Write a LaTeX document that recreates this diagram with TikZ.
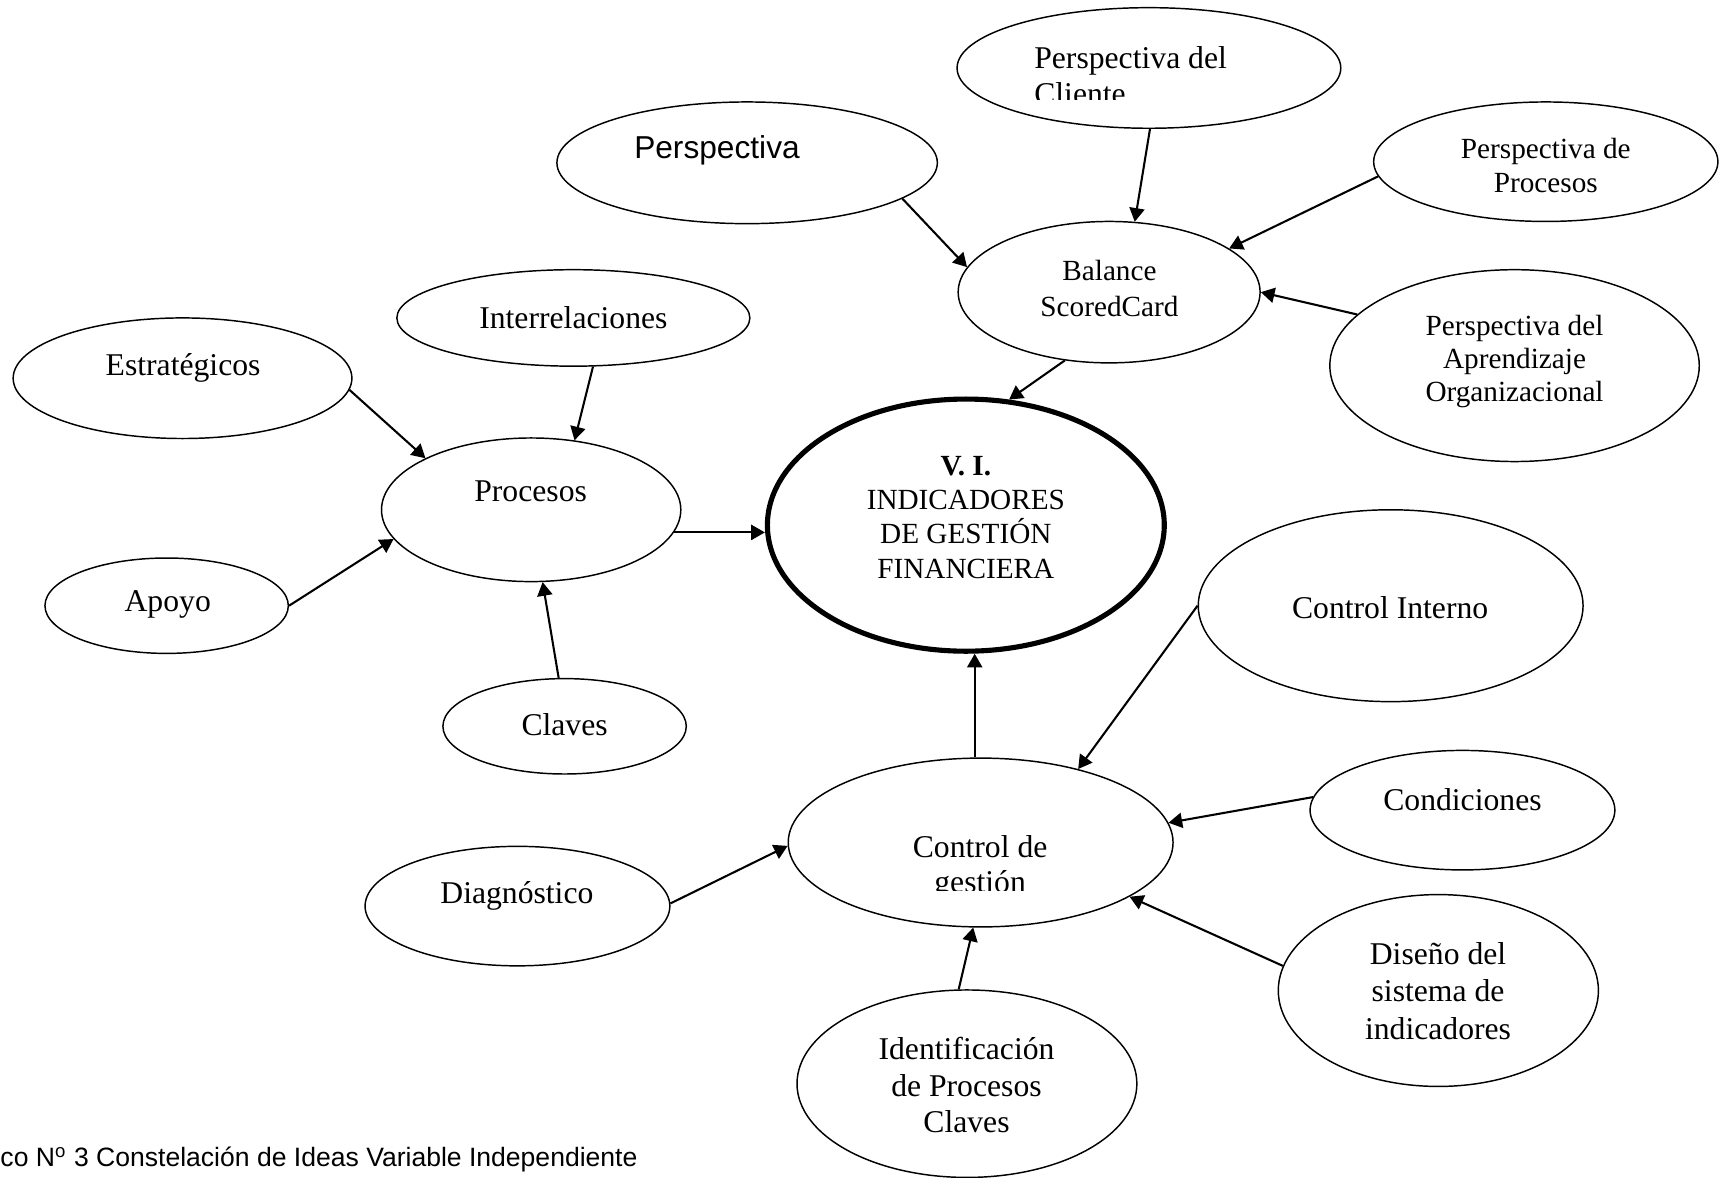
\documentclass[tikz,border=0pt]{standalone}
\usepackage{fontspec}
\setmainfont{Liberation Serif}
\newfontfamily\arialf{Liberation Sans}
\usetikzlibrary{shapes.geometric,arrows.meta}
\begin{document}
\begin{tikzpicture}[x=0.45pt,y=-0.45pt,
  ell/.style 2 args={ellipse,draw,line width=0.6pt,inner sep=0pt,minimum width=#1*0.9pt,minimum height=#2*0.9pt},
  arr/.style={-{Triangle[length=5.6pt,width=6.2pt]},line width=0.85pt},
  lbl/.style={inner sep=0pt,align=center,font=\fontsize{13}{15}\selectfont},
  lbls/.style={inner sep=0pt,align=center,font=\fontsize{12}{14}\selectfont},
]
\useasboundingbox (0,0) rectangle (1568,1074);

% ellipses
\node[ell={173.5}{55.5}] (P1) at (681.5,148.5) {};
\node[ell={175}{55}] (P2) at (1048,62) {};
\node[ell={157}{54.5}] (P3) at (1410,147.5) {};
\node[ell={137.7}{64.5}] (B) at (1011.7,266.5) {};
\node[ell={168.5}{87.5}] (P4) at (1381.5,333.5) {};
\node[ell={161}{44}] (IR) at (523,290) {};
\node[ell={154.5}{55}] (ES) at (166.5,345) {};
\node[ell={136.5}{65.5}] (PR) at (484.5,465) {};
\node[ell={181}{115},line width=2.1pt] (VI) at (881,479) {};
\node[ell={111}{43.5}] (AP) at (152,552.5) {};
\node[ell={111}{43.5}] (CL) at (515,662.5) {};
\node[ell={175.5}{87.5}] (CI) at (1268.5,552.5) {};
\node[ell={139}{54.5}] (CO) at (1334,739) {};
\node[ell={175.5}{77}] (CG) at (894.5,768.5) {};
\node[ell={139}{54.5}] (DI) at (472,826.5) {};
\node[ell={146}{87.5}] (DS) at (1312,903.5) {};
\node[ell={155}{85.5}] (ID) at (882,988.5) {};

% labels
\node[inner sep=0pt,font=\arialf\fontsize{13}{15}\selectfont] (tP1) at (654,137) {Perspectiva};
\begin{scope}
  \clip (900,0) rectangle (1230,91);
  \node[lbl,align=left,anchor=west] (tP2) at (943,69) {Perspectiva del\\Cliente};
\end{scope}
\node[lbls] (tP3) at (1410,151) {Perspectiva de\\Procesos};
\node[lbls,font=\fontsize{12}{14.8}\selectfont] (tB) at (1012,263) {Balance\\ScoredCard};
\node[lbls,font=\fontsize{12}{13.6}\selectfont] (tP4) at (1381.5,330) {Perspectiva del\\Aprendizaje\\Organizacional};
\node[lbl] (tIR) at (523,290) {Interrelaciones};
\node[lbl] (tES) at (167,336) {Estratégicos};
\node[lbl] (tPR) at (484,448) {Procesos};
\node[lbls] (tVI) at (881,472) {\textbf{V. I.}\\INDICADORES\\DE GESTIÓN\\FINANCIERA};
\node[lbl] (tAP) at (153,551) {Apoyo};
\node[lbl] (tCL) at (515,661) {Claves};
\node[lbl] (tCI) at (1268,554) {Control Interno};
\node[lbl] (tCO) at (1334,729) {Condiciones};
\begin{scope}
  \clip (800,740) rectangle (1000,812);
  \node[lbl,font=\fontsize{13}{14.5}\selectfont] (tCG) at (894,791) {Control de\\gestión};
\end{scope}
\node[lbl] (tDI) at (471.5,817) {Diagnóstico};
\node[lbl,font=\fontsize{13}{15.5}\selectfont] (tDS) at (1311.7,904) {Diseño del\\sistema de\\indicadores};
\node[lbl,font=\fontsize{13}{15}\selectfont] (tID) at (881.6,990) {Identificación\\de Procesos\\Claves};

\node[anchor=west,inner sep=0pt,font=\arialf\fontsize{10.9}{13}\selectfont] (cap) at (0,1058) {co N\textsuperscript{o} 3 Constelación de Ideas Variable Independiente};

% connectors
\draw[arr] (P1.-13.5) -- (B.170);
\draw[arr] (P2.-89) -- (B.70.1);
\draw[arr] (P3.-175.5) -- (B.20.3);
\draw[arr] (P4.162.8) -- (B.0);
\draw[arr] (B.-123) -- (VI.71);
\draw[arr] (IR.-68.2) -- (PR.58.3);
\draw[arr] (ES.-4.1) -- (PR.154.5);
\draw[arr] (AP.0) -- (PR.192.1);
\draw[arr] (CL.97.7) -- (PR.-81.1);
\draw[arr] (PR.-9) -- (PR.-9 -| VI.west);
\draw[arr] (CG.94) -- (CG.94 |- VI.south);
\draw[arr] (CI.180) -- (CG.37.8);
\draw[arr] (CO.175.5) -- (CG.6.2);
\draw[arr] (DS.171.6) -- (CG.-20.7);
\draw[arr] (ID.95.3) -- (CG.-95.5);
\draw[arr] (DI.1.4) -- (CG.181.4);
\end{tikzpicture}
\end{document}
